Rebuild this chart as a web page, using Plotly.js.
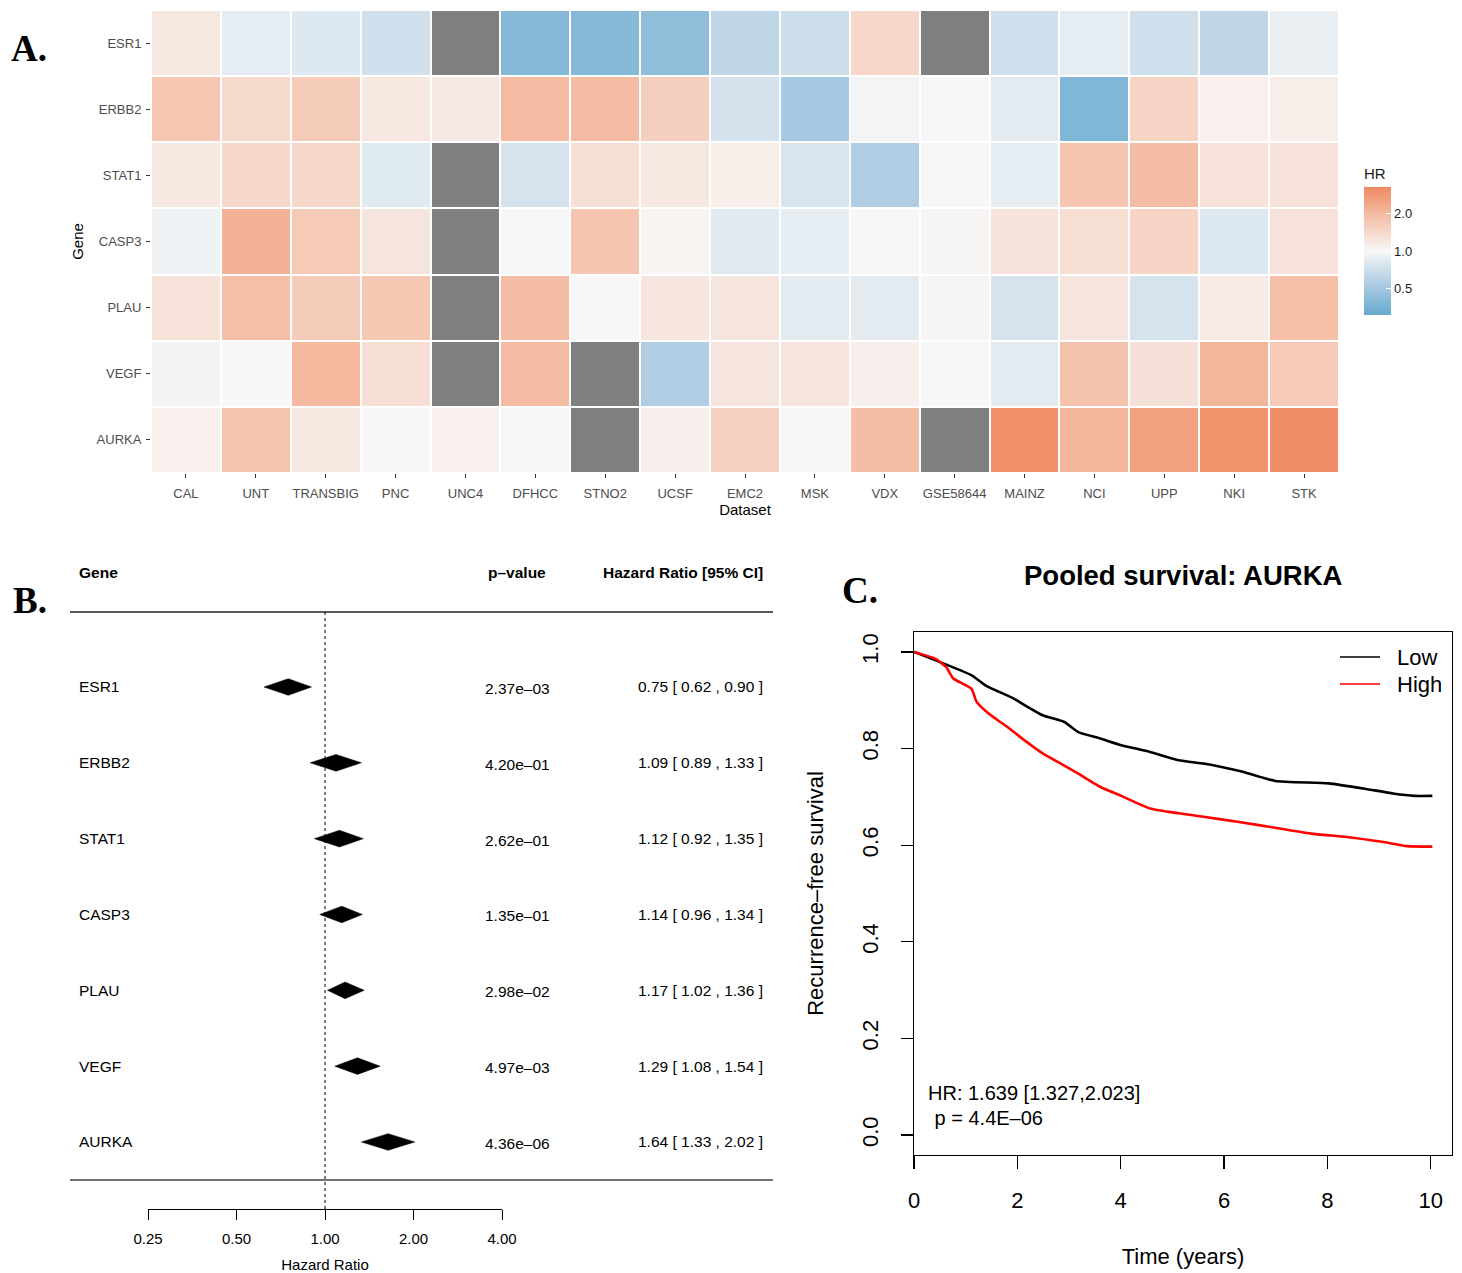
<!DOCTYPE html>
<html>
<head>
<meta charset="utf-8">
<script src="https://cdn.plot.ly/plotly-3.0.1.min.js"></script>
<style>html,body{margin:0;padding:0;background:#fff;}#chart{width:1462px;height:1273px;}</style>
</head>
<body>
<div id="chart"></div>
<script>
// ---------- Panel A: heatmap data ----------
const datasets = ['CAL','UNT','TRANSBIG','PNC','UNC4','DFHCC','STNO2','UCSF','EMC2','MSK','VDX','GSE58644','MAINZ','NCI','UPP','NKI','STK'];
const genes = ['ESR1','ERBB2','STAT1','CASP3','PLAU','VEGF','AURKA'];
const hrESR1  = [1.19,0.87,0.81,0.73,null,0.40,0.40,0.43,0.63,0.71,1.43,null,0.73,0.87,0.72,0.63,0.89];
const hrERBB2 = [1.73,1.39,1.62,1.19,1.18,1.96,1.93,1.57,0.75,0.52,0.96,0.99,0.85,0.38,1.48,1.08,1.12];
const hrSTAT1 = [1.20,1.42,1.42,0.82,null,0.76,1.30,1.20,1.12,0.78,0.56,1.00,0.87,1.76,1.93,1.27,1.27];
const hrCASP3 = [0.93,2.13,1.65,1.22,null,1.00,1.75,1.04,0.84,0.88,1.00,1.02,1.24,1.33,1.47,0.81,1.26];
const hrPLAU  = [1.27,1.88,1.63,1.70,null,1.93,1.00,1.21,1.23,0.85,0.85,1.02,0.77,1.22,0.76,1.15,1.87];
const hrVEGF  = [0.95,1.00,2.00,1.32,null,1.95,null,0.56,1.22,1.22,1.10,1.00,0.85,1.82,1.28,2.06,1.65];
const hrAURKA = [1.08,1.77,1.20,1.00,1.08,1.01,null,1.09,1.56,0.98,1.91,null,3.00,2.05,2.53,2.95,3.10];
const legendTicksHR = [0.5, 1.0, 2.0];

// ---------- Panel B: forest plot data ----------
const fpGenes = ['ESR1','ERBB2','STAT1','CASP3','PLAU','VEGF','AURKA'];
const fpHR  = [0.75,1.09,1.12,1.14,1.17,1.29,1.64];
const fpLo  = [0.62,0.89,0.92,0.96,1.02,1.08,1.33];
const fpHi  = [0.90,1.33,1.35,1.34,1.36,1.54,2.02];
const fpP   = ['2.37e\u201303','4.20e\u201301','2.62e\u201301','1.35e\u201301','2.98e\u201302','4.97e\u201303','4.36e\u201306'];
const fpTicks = [0.25,0.5,1,2,4];
const fpTickText = ['0.25','0.50','1.00','2.00','4.00'];

// ---------- Panel C: Kaplan-Meier data ----------
const kmGroups = ['Low','High'];
const kmTimeLow  = [0,0.41,1.11,1.38,1.94,2.14,2.49,2.91,3.18,3.60,4.01,4.57,5.12,5.60,5.95,6.36,6.99,8.02,8.72,9.27,9.68,10.03];
const kmSurvLow  = [1.0,0.983,0.952,0.931,0.903,0.890,0.869,0.855,0.834,0.821,0.807,0.793,0.776,0.769,0.762,0.752,0.733,0.728,0.717,0.707,0.702,0.702];
const kmTimeHigh = [0,0.41,0.62,0.76,1.11,1.21,1.45,1.80,2.14,2.49,2.84,3.18,3.60,4.01,4.57,5.12,5.60,6.29,6.99,7.68,8.37,9.06,9.55,10.03];
const kmSurvHigh = [1.0,0.986,0.969,0.945,0.924,0.897,0.872,0.845,0.817,0.790,0.769,0.748,0.721,0.702,0.676,0.666,0.659,0.648,0.636,0.624,0.617,0.607,0.598,0.597];
const kmColors = ['#000000','#ff0000'];

const W = 1462, H = 1273;
const px = v => v / W;
const py = v => 1 - v / H;
const SANS = 'Liberation Sans, Arial, Helvetica, sans-serif';
const SERIF = 'Liberation Serif, Times New Roman, serif';

const hrRows = [hrESR1,hrERBB2,hrSTAT1,hrCASP3,hrPLAU,hrVEGF,hrAURKA];
const zLog = hrRows.map(r => r.map(v => v === null ? null : Math.log2(v)));
const zNA = hrRows.map(r => r.map(v => v === null ? 1 : null));
const ZMAX = 1.69;

const traces = [];
traces.push({
  type:'heatmap', x: datasets, y: genes, z: zNA, xaxis:'x', yaxis:'y',
  colorscale:[[0,'#7f7f7f'],[1,'#7f7f7f']], showscale:false, xgap:2, ygap:2, hoverinfo:'skip'
});
traces.push({
  type:'heatmap', x: datasets, y: genes, z: zLog, xaxis:'x', yaxis:'y',
  zmin:-ZMAX, zmax:ZMAX, zauto:false,
  colorscale:[[0,'#67a9cf'],[0.25,'#afcde3'],[0.5,'#f7f7f7'],[0.75,'#f5c3ad'],[1,'#ef8a62']],
  xgap:2, ygap:2, hoverinfo:'skip',
  colorbar:{
    x: px(1364), xanchor:'left', y: py(165), yanchor:'top', len: 150/H, lenmode:'fraction',
    thickness: 27, outlinewidth:0, xpad:0, ypad:0,
    tickvals: legendTicksHR.map(v => Math.log2(v)), ticktext: legendTicksHR.map(v => v.toFixed(1)),
    ticks:'inside', tickcolor:'#ffffff', ticklen:5, tickwidth:1,
    tickfont:{family:SANS, size:13, color:'#1a1a1a'},
    title:{text:'HR', side:'top', font:{family:SANS, size:15, color:'#1a1a1a'}}
  }
});

// Forest plot diamonds
fpGenes.forEach((g, i) => {
  const h = 0.11;
  traces.push({
    type:'scatter', mode:'lines', xaxis:'x2', yaxis:'y2',
    x:[fpLo[i], fpHR[i], fpHi[i], fpHR[i], fpLo[i]],
    y:[i, i - h, i, i + h, i],
    fill:'toself', fillcolor:'#000000', line:{color:'#000000', width:0.5},
    showlegend:false, hoverinfo:'skip'
  });
});

// KM curves
[[kmTimeLow,kmSurvLow],[kmTimeHigh,kmSurvHigh]].forEach((d, k) => {
  traces.push({type:'scatter', mode:'lines', xaxis:'x3', yaxis:'y3', x:d[0], y:d[1],
    name:kmGroups[k], line:{color:kmColors[k], width:2.6, shape:'spline', smoothing:0.5},
    showlegend:false, hoverinfo:'skip'});
});

const annotations = [];
const ann = (text, x, y, opts) => annotations.push(Object.assign({
  text, x, y, xref:'paper', yref:'paper', showarrow:false, xanchor:'left', yanchor:'middle',
  font:{family:SANS, size:15.5, color:'#000'}
}, opts || {}));

// Panel labels
ann('<b>A.</b>', px(9), py(48), {font:{family:SERIF, size:37, color:'#000'}});
ann('<b>B.</b>', px(11), py(600), {font:{family:SERIF, size:37, color:'#000'}});
ann('<b>C.</b>', px(840), py(590), {font:{family:SERIF, size:37, color:'#000'}});

// Forest header & columns
ann('<b>Gene</b>', px(77), py(572));
ann('<b>p\u2013value</b>', px(486), py(572));
ann('<b>Hazard Ratio [95% CI]</b>', px(765), py(572), {xanchor:'right'});
fpGenes.forEach((g, i) => {
  annotations.push({text:g, x:px(77), xref:'paper', y:i, yref:'y2', showarrow:false, xanchor:'left', yanchor:'middle',
    font:{family:SANS, size:15.5, color:'#000'}});
  annotations.push({text:fpP[i], x:px(483), xref:'paper', y:i + 0.02, yref:'y2', showarrow:false, xanchor:'left', yanchor:'middle',
    font:{family:SANS, size:15.5, color:'#000'}});
  annotations.push({text:fpHR[i].toFixed(2) + ' [ ' + fpLo[i].toFixed(2) + ' , ' + fpHi[i].toFixed(2) + ' ]',
    x:px(765), xref:'paper', y:i, yref:'y2', showarrow:false, xanchor:'right', yanchor:'middle',
    font:{family:SANS, size:15.5, color:'#000'}});
});

// KM texts
ann('<b>Pooled survival: AURKA</b>', px(1183), py(575), {xanchor:'center', font:{family:SANS, size:27.5, color:'#000'}});
ann('HR: 1.639 [1.327,2.023]', px(926), py(1093), {font:{family:SANS, size:20, color:'#000'}});
ann(' p = 4.4E\u201306', px(927), py(1118), {font:{family:SANS, size:20, color:'#000'}});
// KM legend text
const legY = [657, 684];
kmGroups.forEach((g, k) => ann(g, px(1395), py(legY[k]), {font:{family:SANS, size:22, color:'#000'}}));

const shapes = [
  {type:'line', xref:'paper', yref:'paper', x0:px(70), x1:px(773), y0:py(612), y1:py(612), line:{color:'#222', width:1.3}},
  {type:'line', xref:'paper', yref:'paper', x0:px(70), x1:px(773), y0:py(1180), y1:py(1180), line:{color:'#444', width:1.3}},
  {type:'line', xref:'x2', yref:'paper', x0:1, x1:1, y0:py(1209), y1:py(612), line:{color:'#000', width:1, dash:'dot'}}
];
kmGroups.forEach((g, k) => shapes.push({type:'line', xref:'paper', yref:'paper',
  x0:px(1340), x1:px(1380), y0:py(legY[k]), y1:py(legY[k]), line:{color:kmColors[k], width:1.5}}));

const layout = {
  width:W, height:H, margin:{l:0, r:0, t:0, b:0},
  paper_bgcolor:'#ffffff', plot_bgcolor:'rgba(0,0,0,0)',
  font:{family:SANS},
  showlegend:false,
  xaxis:{domain:[px(151), px(1339)], anchor:'y', type:'category', categoryorder:'array', categoryarray:datasets,
    showgrid:false, zeroline:false, showline:false, ticks:'outside', ticklen:4, tickcolor:'#333',
    tickfont:{family:SANS, size:13, color:'#4d4d4d'}, ticklabelstandoff:4,
    title:{text:'Dataset', font:{family:SANS, size:15, color:'#000'}, standoff:2}},
  yaxis:{domain:[py(473), py(10)], anchor:'x', type:'category', categoryorder:'array', categoryarray:genes,
    autorange:'reversed', showgrid:false, zeroline:false, showline:false, ticks:'outside', ticklen:4, tickcolor:'#333',
    tickfont:{family:SANS, size:13, color:'#4d4d4d'}, ticklabelstandoff:2,
    title:{text:'Gene', font:{family:SANS, size:15, color:'#000'}, standoff:9}},
  xaxis2:{domain:[px(148), px(502)], anchor:'y2', type:'log', range:[Math.log10(0.25), Math.log10(4)],
    tickvals:fpTicks, ticktext:fpTickText, ticks:'outside', ticklen:10, tickcolor:'#000', tickwidth:1,
    showline:true, linecolor:'#000', linewidth:1, showgrid:false, zeroline:false,
    tickfont:{family:SANS, size:15, color:'#000'}, ticklabelstandoff:6,
    title:{text:'Hazard Ratio', font:{family:SANS, size:15, color:'#000'}, standoff:14}},
  yaxis2:{domain:[py(1209), py(612)], anchor:'x2', range:[6.884, -0.989], visible:false,
    showgrid:false, zeroline:false},
  xaxis3:{domain:[px(914), px(1452)], anchor:'y3', range:[0, 10.41], tickvals:[0,2,4,6,8,10],
    ticks:'outside', ticklen:13, tickcolor:'#000', tickwidth:1.2, showline:true, mirror:true,
    linecolor:'#000', linewidth:1.2, showgrid:false, zeroline:false,
    tickfont:{family:SANS, size:22, color:'#000'}, ticklabelstandoff:12,
    title:{text:'Time (years)', font:{family:SANS, size:22, color:'#000'}, standoff:37}},
  yaxis3:{domain:[py(1155), py(632)], anchor:'x3', range:[-0.0413, 1.0413],
    tickvals:[0,0.2,0.4,0.6,0.8,1.0], ticktext:['0.0','0.2','0.4','0.6','0.8','1.0'], tickangle:-90,
    ticks:'outside', ticklen:12, tickcolor:'#000', tickwidth:1.2, showline:true, mirror:true,
    linecolor:'#000', linewidth:1.2, showgrid:false, zeroline:false,
    tickfont:{family:SANS, size:22, color:'#000'}, ticklabelstandoff:14,
    title:{text:'Recurrence\u2013free survival', font:{family:SANS, size:22, color:'#000'}, standoff:28}},
  annotations, shapes
};

Plotly.newPlot('chart', traces, layout, {staticPlot:true, displayModeBar:false});
</script>
</body>
</html>
